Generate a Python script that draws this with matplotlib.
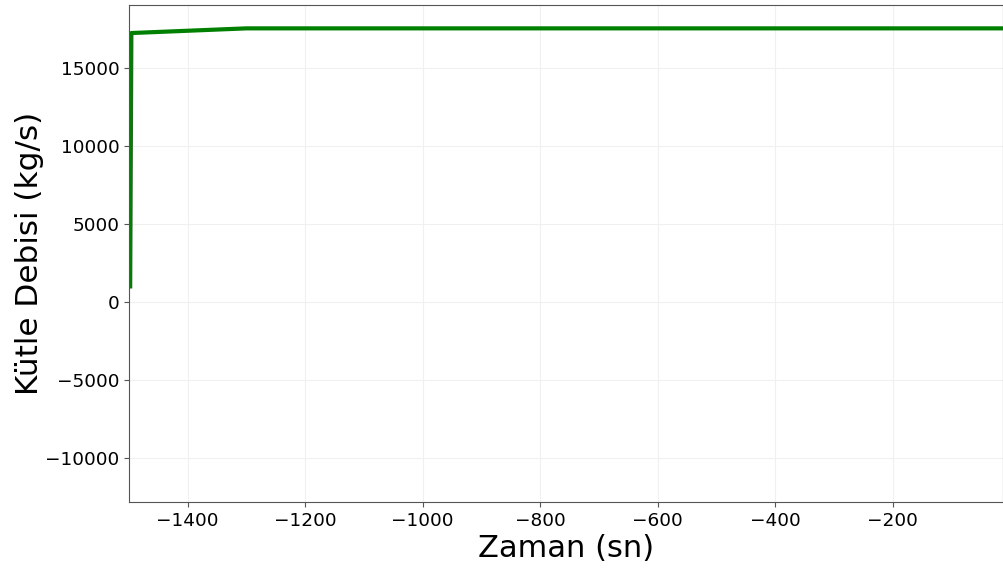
import matplotlib
matplotlib.use("Agg")
import matplotlib.pyplot as plt

time_s = [-1498, -1496, -1300, -12]
mass_flow = [1000, 17250, 17550, 17550]

fig = plt.figure(figsize=(10.04, 5.70), dpi=100)
ax = fig.add_axes([0.1285, 0.1195, 0.8705, 0.8715])
ax.plot(time_s, mass_flow, color="green", linewidth=3.0)
ax.set_xlim(-1500, -12)
ax.set_ylim(-12820, 19040)
ax.set_xticks([-1400, -1200, -1000, -800, -600, -400, -200])
ax.set_yticks([-10000, -5000, 0, 5000, 10000, 15000])
ax.grid(True, color="#f0f0f0", linewidth=0.8)
ax.tick_params(labelsize=13.3, color="#555555")
for s in ax.spines.values():
    s.set_color("#555555")
ax.set_xlabel("Zaman (sn)", fontsize=22, labelpad=3)
ax.set_ylabel("Kütle Debisi (kg/s)", fontsize=22.4, labelpad=1)
fig.savefig("out.png", dpi=100)
